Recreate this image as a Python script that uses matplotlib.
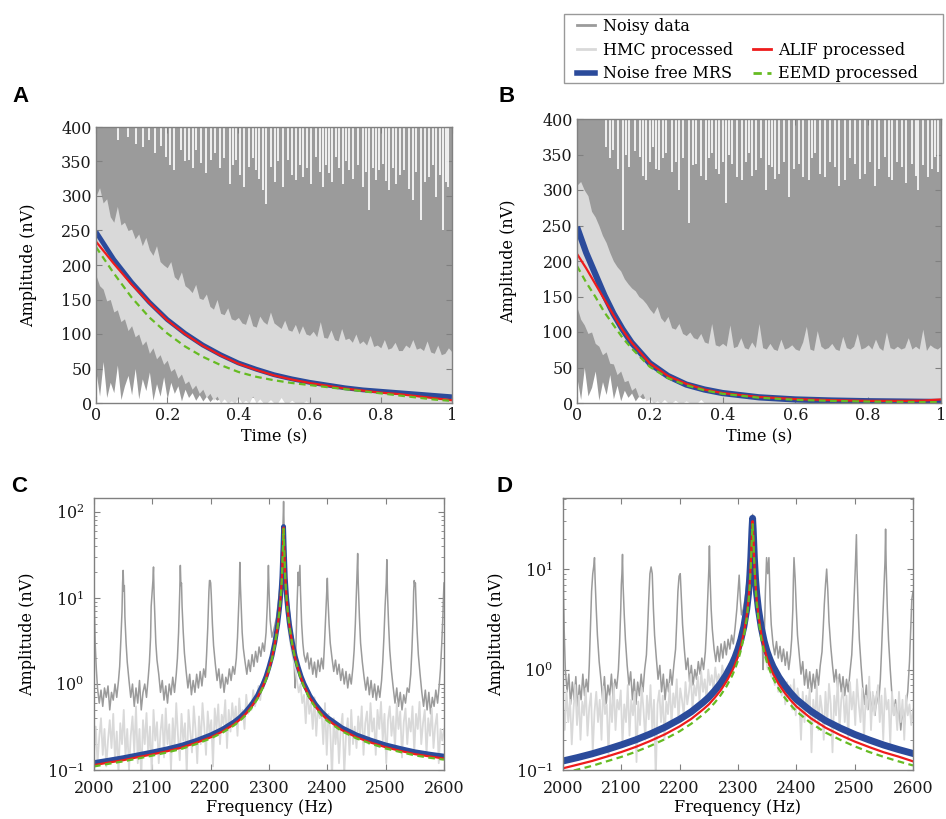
import numpy as np
import matplotlib
matplotlib.use('Agg')
import matplotlib.pyplot as plt
from matplotlib.lines import Line2D
from matplotlib.patches import Rectangle
from matplotlib.ticker import NullFormatter

plt.rcParams['font.family'] = 'DejaVu Serif'
plt.rcParams['mathtext.fontset'] = 'dejavuserif'
plt.rcParams['font.size'] = 11.5

c_noisy = '#9b9b9b'
c_hmc = '#d9d9d9'
c_true = '#2b4b9b'
c_alif = '#ee1c1c'
c_eemd = '#66bb22'

# ---- time domain, panel A ----
a_t = [0, .05, .1, .15, .2, .25, .3, .35, .4, .45, .5, .55, .6, .65, .7, .75, .8, .85, .9, .95, 1.0]
a_true = [248, 208, 175, 146, 121, 101, 84, 70, 58, 49, 41, 35, 30, 26, 22, 19, 17, 15, 13, 11, 9]
a_alif = [234, 202, 172, 145, 120, 100, 83, 69, 57, 48, 40, 34, 29, 25, 21, 18, 15, 13, 10, 7, 4]
a_eemd = [226, 188, 153, 124, 101, 82, 67, 55, 45, 38, 33, 29, 26, 23, 20, 17, 14, 11, 8, 5, 3]

# edges of the HMC band and lower edge of the noisy trace, one value every 0.01 s
a_hmc_hi = [300, 312, 290, 296, 270, 262, 285, 258, 262, 250,
            252, 238, 245, 228, 240, 222, 214, 228, 205, 200,
            196, 205, 183, 178, 190, 170, 166, 160, 172, 152,
            150, 158, 140, 136, 150, 130, 128, 138, 122, 120,
            124, 116, 114, 130, 112, 110, 126, 118, 114, 132,
            116, 112, 108, 120, 106, 104, 114, 100, 112, 100,
            98, 104, 96, 118, 95, 94, 106, 92, 90, 108,
            92, 94, 88, 100, 86, 90, 84, 98, 82, 84,
            80, 92, 78, 80, 88, 76, 76, 84, 80, 92,
            78, 80, 76, 90, 74, 72, 84, 70, 72, 80, 74]
a_hmc_lo = [185, 170, 165, 148, 150, 132, 135, 118, 122, 105,
            112, 96, 100, 84, 90, 72, 80, 64, 70, 56,
            62, 46, 50, 36, 42, 28, 32, 20, 26, 14,
            20, 8, 14, 4, 10, 0, 6, 0, 3, 0,
            8, 0, 4, 0, 10, 0, 6, 0, 0, 5,
            0, 0, 8, 0, 0, 4, 0, 0, 0, 3] + [0] * 41
a_noisy_lo = [45, 10, 60, 8, 30, 15, 55, 5, 25, 40,
              12, 50, 6, 35, 18, 45, 4, 28, 10, 38,
              6, 30, 14, 25, 3, 20, 8, 15, 4, 12,
              3, 10, 2, 8, 4, 8, 8, 8, 8, 8] + [8] * 61
# white gaps at the top of the noisy trace: (time, lowest value of the gap)
a_spikes = [(.061, 381), (.09, 385), (.112, 375), (.131, 371), (.15, 381), (.165, 362), (.182, 372),
            (.197, 357), (.208, 345), (.22, 337), (.239, 366), (.25, 350), (.262, 352), (.272, 340),
            (.281, 366), (.295, 348), (.309, 333), (.323, 352), (.335, 362), (.348, 340), (.36, 355),
            (.375, 318), (.385, 345), (.393, 352), (.405, 330), (.417, 313), (.431, 342), (.44, 355),
            (.449, 337), (.458, 325), (.468, 308), (.478, 289), (.492, 342), (.503, 320), (.512, 350),
            (.524, 313), (.538, 352), (.55, 330), (.562, 323), (.572, 345), (.581, 328), (.592, 340),
            (.605, 318), (.618, 357), (.628, 335), (.637, 313), (.646, 345), (.655, 333), (.664, 320),
            (.674, 357), (.683, 340), (.693, 318), (.702, 350), (.712, 337), (.722, 325), (.735, 345),
            (.749, 313), (.758, 335), (.768, 280), (.778, 340), (.787, 323), (.796, 338), (.805, 347),
            (.815, 322), (.824, 308), (.834, 340), (.843, 318), (.855, 330), (.866, 337), (.878, 310),
            (.89, 294), (.9, 335), (.913, 265), (.925, 320), (.936, 328), (.946, 345), (.955, 299),
            (.965, 330), (.974, 251), (.982, 320), (.988, 313)]

# ---- time domain, panel B ----
b_t = [0, .025, .05, .075, .1, .125, .15, .2, .25, .3, .35, .4, .5, .6, .7, .8, .9, .95, 1.0]
b_true = [248, 212, 182, 152, 126, 104, 85, 56, 38, 26, 19, 14, 8, 5, 3.5, 2.5, 2, 1.7, 1.5]
b_alif = [210, 190, 168, 146, 124, 103, 85, 56, 38, 27, 19, 14, 8.5, 5.5, 4, 3, 3, 3.3, 5]
b_eemd = [193, 170, 150, 128, 110, 92, 77, 51, 35, 25, 18, 13, 7.5, 4.5, 3, 2, 1.5, 1.3, 1.2]

b_hmc_hi = [307, 312, 300, 292, 270, 262, 250, 236, 226, 212,
            200, 192, 186, 175, 168, 162, 158, 150, 146, 140,
            132, 126, 136, 120, 114, 122, 106, 104, 112, 98,
            95, 100, 92, 90, 98, 86, 84, 112, 82, 80,
            84, 80, 110, 78, 80, 92, 78, 76, 86, 78,
            112, 78, 76, 84, 76, 74, 90, 76, 78, 82,
            76, 74, 86, 108, 76, 74, 102, 80, 76, 78,
            84, 76, 74, 94, 78, 76, 80, 98, 76, 78,
            82, 76, 90, 78, 74, 100, 78, 76, 80, 76,
            78, 92, 76, 80, 76, 104, 74, 82, 78, 76, 80]
b_hmc_lo = [135, 118, 110, 98, 100, 84, 80, 68, 72, 56,
            55, 40, 45, 30, 32, 18, 22, 8, 14, 3,
            6, 0, 3, 0, 5, 0, 0, 4, 0, 0,
            3, 0, 0, 0, 5, 0, 0, 0, 0, 0] + [0] * 61
b_noisy_lo = [35, 5, 50, 10, 22, 45, 4, 30, 12, 40,
              6, 25, 3, 18, 8, 14, 3, 10, 6, 8] + [6] * 81
b_spikes = [(.08, 361), (.09, 345), (.099, 356), (.112, 330), (.126, 243), (.135, 350), (.144, 333),
            (.158, 355), (.172, 347), (.18, 320), (.19, 314), (.2, 340), (.208, 361), (.217, 330),
            (.226, 328), (.236, 345), (.245, 352), (.262, 325), (.272, 340), (.281, 300), (.29, 345),
            (.308, 253), (.318, 335), (.327, 337), (.34, 320), (.354, 314), (.363, 345), (.372, 352),
            (.381, 330), (.39, 323), (.4, 340), (.409, 281), (.418, 350), (.427, 337), (.44, 318),
            (.454, 314), (.463, 340), (.473, 352), (.482, 320), (.491, 328), (.505, 345), (.518, 300),
            (.527, 335), (.536, 333), (.545, 315), (.555, 323), (.568, 340), (.582, 290), (.595, 330),
            (.609, 337), (.62, 318), (.637, 314), (.646, 345), (.655, 352), (.668, 322), (.682, 319),
            (.695, 340), (.71, 333), (.72, 305), (.737, 314), (.75, 345), (.765, 337), (.778, 315),
            (.792, 323), (.805, 340), (.819, 305), (.83, 330), (.847, 347), (.856, 318), (.865, 314),
            (.878, 340), (.892, 333), (.905, 310), (.92, 337), (.93, 320), (.938, 300), (.95, 335),
            (.965, 319), (.975, 330), (.984, 347), (.993, 325)]

# ---- spectra: noisy data (Hz, nV) ----
c_noisy_pts = [
    (2000, 15), (2001, 6), (2002, 3), (2004, 1.5), (2006, .9), (2009, .6), (2012, .85), (2015, .55),
    (2018, .9), (2021, .7), (2024, .95), (2027, .5), (2030, .8), (2033, .65), (2036, 1.0), (2039, .7),
    (2042, 1.1), (2044, 1.6), (2046, 3.2), (2048, 7), (2049, 15), (2050, 21), (2051, 12), (2052, 14),
    (2053, 6), (2055, 3), (2057, 1.8), (2060, 1.1), (2063, .7), (2066, 1.0), (2069, .55), (2072, .9),
    (2075, .6), (2078, 1.1), (2081, .5), (2084, .8), (2087, 1.0), (2090, .7), (2093, 1.2), (2095, 1.8),
    (2097, 3.5), (2098, 8), (2099, 10), (2100, 12), (2101, 16), (2102, 23), (2103, 11), (2104, 7),
    (2106, 3), (2108, 1.9), (2111, 1.3), (2114, .8), (2117, 1.1), (2120, .65), (2123, .95), (2126, .6),
    (2129, 1.0), (2132, .75), (2135, 1.2), (2138, .8), (2141, 1.3), (2143, 2.0), (2145, 4), (2147, 12),
    (2148, 24), (2149, 14), (2150, 15), (2151, 8), (2153, 4), (2155, 2.3), (2158, 1.4), (2161, .9),
    (2164, 1.3), (2167, .75), (2170, 1.1), (2173, .8), (2176, 1.3), (2179, .9), (2182, 1.4), (2185, .95),
    (2188, 1.5), (2191, 1.2), (2193, 2.2), (2195, 4.5), (2197, 12), (2198, 16), (2199, 16), (2200, 15),
    (2201, 11), (2203, 5), (2205, 2.8), (2208, 1.7), (2211, 1.1), (2214, 1.5), (2217, .9), (2220, 1.3),
    (2223, .8), (2226, 1.2), (2229, 1.0), (2232, 1.5), (2235, 1.1), (2238, 1.6), (2241, 1.3), (2244, 2.0),
    (2246, 3.5), (2248, 8), (2249, 12), (2250, 26), (2251, 14), (2252, 9), (2254, 4), (2256, 2.6),
    (2259, 1.8), (2262, 1.3), (2265, 1.9), (2268, 1.4), (2271, 2.2), (2274, 1.6), (2277, 2.4), (2280, 1.8),
    (2283, 2.7), (2286, 2.1), (2289, 3.0), (2292, 2.4), (2295, 4), (2297, 8), (2298, 14), (2299, 24),
    (2300, 13), (2301, 8), (2302, 5.5), (2305, 3.5), (2309, 4.5), (2313, 6), (2316, 9), (2319, 14),
    (2321, 22), (2323, 40), (2324, 70), (2325, 133), (2326, 60), (2327, 35), (2329, 20), (2331, 12),
    (2333, 9), (2336, 6), (2339, 4), (2342, 3.3), (2344, 1.2), (2345, .9), (2346, 2.5), (2348, 8),
    (2350, 20), (2351, 14), (2353, 24), (2354, 12), (2356, 5), (2358, 3), (2360, 2.2), (2363, 1.8),
    (2366, 2.3), (2369, 1.5), (2372, 2.0), (2375, 1.3), (2378, 1.8), (2381, 1.2), (2384, 1.9), (2387, 1.4),
    (2390, 2.0), (2393, 1.5), (2395, 2.8), (2397, 6), (2399, 12), (2400, 17), (2401, 10), (2403, 5),
    (2405, 3), (2408, 2.0), (2411, 1.4), (2414, 1.9), (2417, 1.3), (2420, 1.7), (2423, 1.1), (2426, 1.5),
    (2429, 1.0), (2432, 1.4), (2435, .9), (2438, 1.3), (2441, 1.0), (2444, 1.6), (2446, 2.5), (2448, 5),
    (2450, 12), (2451, 20), (2452, 33), (2453, 15), (2455, 6), (2457, 3), (2460, 1.8), (2463, 1.2),
    (2466, .85), (2469, 1.2), (2472, .75), (2475, 1.1), (2478, .7), (2481, 1.0), (2484, .65), (2487, .95),
    (2490, .7), (2493, 1.1), (2495, 1.8), (2497, 3.5), (2499, 8), (2501, 15), (2502, 28), (2503, 12),
    (2505, 5), (2507, 2.5), (2510, 1.4), (2513, .9), (2516, .6), (2519, .9), (2522, .55), (2525, .8),
    (2528, .5), (2531, .75), (2534, .6), (2537, .9), (2540, .8), (2543, 1.3), (2545, 2.5), (2547, 6),
    (2548, 12), (2549, 16), (2550, 14), (2551, 15), (2552, 9), (2554, 4), (2556, 2.2), (2559, 1.3),
    (2562, .8), (2565, .55), (2568, .85), (2571, .5), (2574, .8), (2577, .45), (2580, .7), (2583, .55),
    (2586, .85), (2589, .6), (2592, 1.0), (2594, 1.5), (2596, 2.8), (2598, 6), (2599, 10), (2600, 15)]

d_noisy_pts = [
    (2000, 12), (2001, 5), (2002, 2.5), (2004, 1.0), (2007, .6), (2010, .9), (2013, .45), (2016, .75),
    (2019, .5), (2022, .85), (2025, .4), (2028, .7), (2031, .5), (2034, .9), (2037, .55), (2040, .8),
    (2043, .6), (2045, 1.1), (2047, 2.5), (2049, 6), (2051, 9), (2053, 11), (2054, 13), (2055, 8),
    (2057, 4), (2059, 2.2), (2062, 1.2), (2065, .8), (2068, .5), (2071, .85), (2074, .45), (2077, .7),
    (2080, .55), (2083, .9), (2086, .5), (2089, .8), (2092, .65), (2095, 1.0), (2097, 1.8), (2099, 4),
    (2100, 7), (2101, 9), (2102, 14), (2103, 7), (2105, 3.5), (2107, 2), (2110, 1.1), (2113, .7),
    (2116, .95), (2119, .5), (2122, .8), (2125, .45), (2128, .75), (2131, .55), (2134, .9), (2137, .6),
    (2140, 1.0), (2143, 1.4), (2145, 2.5), (2147, 5), (2149, 9), (2151, 10.5), (2153, 9), (2155, 4),
    (2157, 2.2), (2160, 1.3), (2163, .8), (2166, 1.1), (2169, .6), (2172, .9), (2175, .5), (2178, .8),
    (2181, .6), (2184, 1.0), (2187, .7), (2190, 1.1), (2193, 1.6), (2195, 3), (2197, 6), (2199, 8.5),
    (2201, 9), (2203, 5), (2205, 2.8), (2208, 1.6), (2211, 1.0), (2214, 1.3), (2217, .75), (2220, 1.1),
    (2223, .7), (2226, 1.0), (2229, .8), (2232, 1.2), (2235, .9), (2238, 1.3), (2241, 1.0), (2244, 1.5),
    (2246, 2.5), (2248, 5), (2250, 10), (2251, 17), (2252, 9), (2254, 4), (2256, 2.5), (2259, 1.6),
    (2262, 1.2), (2265, 1.7), (2268, 1.2), (2271, 1.8), (2274, 1.3), (2277, 1.9), (2280, 1.4), (2283, 2.0),
    (2286, 1.6), (2289, 2.2), (2292, 1.8), (2295, 2.6), (2298, 4), (2300, 6), (2302, 8.7), (2304, 5),
    (2306, 3.5), (2309, 4), (2312, 5), (2315, 7), (2318, 10), (2321, 16), (2323, 25), (2325, 35),
    (2327, 22), (2329, 14), (2331, 9), (2334, 6), (2337, 4), (2340, 2.8), (2342, 1.6), (2343, 1.0),
    (2345, 2), (2347, 6), (2349, 13), (2351, 9), (2353, 13), (2355, 5), (2357, 2.8), (2360, 1.8),
    (2363, 1.4), (2366, 1.9), (2369, 1.3), (2372, 1.7), (2375, 1.2), (2378, 1.6), (2381, 1.1), (2384, 1.5),
    (2387, 1.0), (2390, 1.4), (2392, 2), (2394, 4), (2395, 8), (2396, 13), (2398, 8), (2400, 4),
    (2402, 2.2), (2405, 1.4), (2408, .9), (2411, 1.2), (2414, .7), (2417, 1.0), (2420, .65), (2423, .95),
    (2426, .6), (2429, .9), (2432, .65), (2435, 1.0), (2438, .7), (2441, 1.1), (2444, 1.5), (2446, 2.5),
    (2448, 4.5), (2450, 7), (2452, 10), (2454, 6), (2456, 3), (2459, 1.7), (2462, 1.1), (2465, .75),
    (2468, 1.0), (2471, .65), (2474, .9), (2477, .6), (2480, .85), (2483, .55), (2486, .8), (2489, .6),
    (2492, .95), (2495, 1.4), (2497, 2.5), (2499, 5), (2501, 10), (2503, 22), (2504, 10), (2506, 4),
    (2508, 2), (2511, 1.1), (2514, .65), (2517, .45), (2520, .7), (2523, .4), (2526, .6), (2529, .38),
    (2532, .55), (2535, .35), (2538, .6), (2541, .45), (2544, .8), (2546, 1.5), (2548, 3), (2550, 6),
    (2552, 12), (2553, 25), (2554, 11), (2556, 4), (2558, 2), (2561, 1.0), (2564, .55), (2567, .35),
    (2570, .5), (2573, .3), (2576, .45), (2579, .25), (2582, .4), (2585, .28), (2588, .45), (2591, .6),
    (2594, 1.2), (2596, 2.5), (2598, 5), (2600, 6)]

# HMC processed spectra, one value every 3 Hz from 2000 to 2600
hmc_freq = np.arange(2000, 2601, 3)
c_hmc_v = [.16, .32, .12, .24, .4, .15, .3, .11, .22, .38,
           .18, .45, .13, .28, .09, .35, .2, .5, .14, .3,
           .1, .25, .42, .16, .55, .12, .3, .08, .38, .2,
           .46, .15, .32, .09, .5, .22, .36, .12, .28, .44,
           .14, .52, .2, .34, .1, .4, .18, .6, .25, .13,
           .45, .22, .35, .09, .5, .28, .16, .55, .3, .12,
           .42, .2, .6, .32, .15, .48, .26, .38, .11, .52,
           .3, .58, .2, .44, .34, .65, .18, .5, .28, .6,
           .36, .55, .25, .68, .4, .5, .3, .75, .45, .6,
           .5, .85, .55, .7, .95, .65, 1.05, .9, 1.2, 1.4,
           1.5, 1.8, 2.2, 2.7, 3.4, 4.5, 7, 10, 25, 12,
           7, 4.5, 3.2, 2.4, 1.9, 1.5, 1.1, .8, 1.0, .6,
           .75, .35, .9, .45, .6, .3, .7, .25, .55, .4,
           .5, .2, .6, .15, .45, .3, .08, .4, .2, .35,
           .12, .3, .45, .09, .25, .4, .15, .5, .2, .32,
           .18, .42, .25, .55, .15, .35, .48, .2, .6, .28,
           .4, .15, .5, .3, .62, .22, .45, .12, .38, .55,
           .25, .42, .18, .6, .3, .48, .14, .36, .52, .2,
           .4, .28, .55, .16, .45, .3, .62, .2, .35, .5,
           .15, .4, .25, .52, .18, .33, .45, .12, .3, .22, .3]
d_hmc_v = [.45, .25, .62, .3, .5, .18, .4, .7, .28, .55,
           .2, .48, .35, .65, .22, .42, .58, .15, .38, .6,
           .3, .5, .2, .68, .36, .45, .14, .55, .3, .72,
           .25, .5, .4, .62, .18, .45, .3, .7, .22, .5,
           .35, .6, .12, .48, .28, .66, .4, .2, .55, .32,
           .7, .25, .5, .08, .45, .62, .3, .55, .2, .48,
           .36, .72, .28, .58, .42, .8, .3, .65, .5, .35,
           .75, .45, .6, .9, .4, .7, .55, .85, .48, .95,
           .6, .8, .5, 1.0, .7, .88, .62, 1.05, .75, .9,
           .7, 1.1, .85, 1.0, .8, 1.15, .95, 1.2, 1.05, 1.35,
           1.4, 1.6, 1.9, 2.3, 2.8, 3.6, 5.5, 8, 17, 14,
           8, 5, 3.5, 2.6, 2.0, 1.6, 1.3, 1.0, 1.15, .85,
           .95, .7, 1.0, .6, .85, .55, .8, .45, .75, .6,
           .7, .4, .8, .35, .65, .5, .2, .6, .3, .55,
           .4, .65, .15, .5, .3, .7, .25, .55, .4, .2,
           .6, .3, .72, .45, .15, .55, .35, .8, .25, .5,
           .65, .3, .55, .2, .75, .4, .6, .28, .8, .45,
           .3, .65, .2, .55, .4, .85, .25, .6, .35, .5,
           .7, .3, .55, .2, .65, .4, .5, .18, .6, .35,
           .45, .25, .6, .3, .5, .2, .55, .35, .45, .28, .4]

# fitted spectra (noise free, ALIF, EEMD)
fit_freq = [2000, 2025, 2050, 2075, 2100, 2125, 2150, 2175,
            2200, 2220, 2240, 2250, 2260, 2270, 2280, 2290,
            2295, 2300, 2305, 2310, 2315, 2318, 2320, 2322,
            2324, 2325,
            2326, 2328, 2330, 2332, 2335, 2340,
            2345, 2350, 2355, 2360, 2370, 2380, 2390, 2400,
            2425, 2450, 2475, 2500, 2525, 2550, 2575, 2600]
c_true_v = [.122, .13, .139, .15, .162, .176, .194, .22,
            .256, .298, .362, .409, .477, .578, .733, 1.01,
            1.23, 1.58, 2.1, 3.07, 5.0, 7.5, 10.5, 17,
            40, 68,
            40, 17, 10.5, 7.5, 5.0, 3.07,
            2.1, 1.58, 1.23, 1.01, .733, .578, .477, .409,
            .31, .256, .222, .196, .178, .163, .153, .145]
c_alif_v = [.114, .122, .13, .141, .152, .165, .182, .207,
            .24, .28, .34, .385, .449, .545, .69, .955,
            1.17, 1.5, 2.0, 2.93, 4.8, 7.25, 10.2, 16.5,
            39, 66,
            39, 16.5, 10.2, 7.25, 4.8, 2.93,
            2.0, 1.5, 1.17, .955, .69, .545, .449, .385,
            .291, .24, .208, .184, .167, .153, .144, .136]
c_eemd_v = [.11, .118, .126, .136, .147, .16, .176, .2,
            .233, .271, .33, .372, .434, .527, .667, .925,
            1.13, 1.45, 1.94, 2.85, 4.7, 7.1, 10, 16.2,
            38, 64,
            38, 16.2, 10, 7.1, 4.7, 2.85,
            1.94, 1.45, 1.13, .925, .667, .527, .434, .372,
            .282, .233, .202, .178, .162, .148, .139, .132]
d_true_v = [.123, .133, .145, .16, .178, .2, .229, .267,
            .32, .38, .47, .53, .615, .727, .89, 1.14,
            1.33, 1.6, 2.0, 2.67, 4.0, 5.7, 8.0, 13,
            25, 32,
            25, 13, 8, 5.7, 4.0, 2.6,
            1.9, 1.5, 1.25, 1.07, .84, .69, .585, .505,
            .385, .31, .262, .226, .199, .177, .16, .146]
d_alif_v = [.104, .113, .123, .136, .151, .17, .195, .227,
            .272, .323, .4, .45, .523, .618, .757, .97,
            1.13, 1.36, 1.72, 2.3, 3.5, 5.0, 7.1, 11.8,
            23, 30,
            23, 11.8, 7.1, 5.0, 3.5, 2.23,
            1.63, 1.28, 1.07, .91, .714, .587, .497, .43,
            .327, .264, .223, .192, .169, .15, .136, .122]
d_eemd_v = [.093, .101, .11, .122, .135, .152, .174, .203,
            .243, .289, .357, .403, .467, .553, .676, .87,
            1.02, 1.23, 1.56, 2.1, 3.2, 4.6, 6.6, 11,
            21.5, 28,
            21.5, 11, 6.6, 4.6, 3.2, 2.02,
            1.48, 1.16, .965, .82, .64, .525, .445, .384,
            .293, .236, .2, .172, .151, .135, .122, .111]


def style(ax, pad):
    for s in ax.spines.values():
        s.set_color('#808080')
        s.set_linewidth(1)
    ax.tick_params(which='both', direction='in', top=True, right=True,
                   color='#808080', labelcolor='#1a1a1a', pad=pad)
    ax.tick_params(which='major', length=4)
    ax.tick_params(which='minor', length=2.5)


def time_panel(ax, t, true, alif, eemd, hmc_hi, hmc_lo, noisy_lo, spikes, lw_true):
    te = np.linspace(0, 1, len(hmc_hi))
    tn = np.linspace(0, 1, len(noisy_lo))
    sp_t, sp_lo = zip(*spikes)
    ax.fill_between(tn, noisy_lo, 420, color=c_noisy, lw=0)
    ax.vlines(sp_t, sp_lo, 420, color='white', lw=1.2)
    ax.fill_between(te, hmc_lo, hmc_hi, color=c_hmc, lw=0)
    ax.plot(t, true, color=c_true, lw=lw_true, solid_capstyle='butt')
    ax.plot(t, alif, color=c_alif, lw=1.6)
    ax.plot(t, eemd, color=c_eemd, lw=1.6, ls=(0, (3, 2)))
    ax.set_xlim(0, 1)
    ax.set_ylim(0, 400)
    ax.set_xticks([0, 0.2, 0.4, 0.6, 0.8, 1])
    ax.set_xticklabels(['0', '0.2', '0.4', '0.6', '0.8', '1'])
    ax.set_yticks(range(0, 401, 50))
    ax.set_xlabel('Time (s)', labelpad=3)
    ax.set_ylabel('Amplitude (nV)')
    style(ax, 3)


def spec_panel(ax, noisy_pts, hmc_v, true_v, alif_v, eemd_v, lw_true, ytop):
    nf, nv = zip(*noisy_pts)
    ax.plot(nf, nv, color=c_noisy, lw=1.1)
    ax.plot(hmc_freq, hmc_v, color=c_hmc, lw=1.3)
    ax.plot(fit_freq, true_v, color=c_true, lw=lw_true, solid_joinstyle='round')
    ax.plot(fit_freq, alif_v, color=c_alif, lw=1.6)
    ax.plot(fit_freq, eemd_v, color=c_eemd, lw=1.6, ls=(0, (3, 2)))
    ax.set_yscale('log')
    ax.set_xlim(2000, 2600)
    ax.set_ylim(0.1, ytop)
    ax.set_xticks(range(2000, 2601, 100))
    ax.yaxis.set_minor_formatter(NullFormatter())
    ax.set_xlabel('Frequency (Hz)', labelpad=2)
    ax.set_ylabel('Amplitude (nV)')
    style(ax, 7)


fig = plt.figure(figsize=(9.46, 8.19), dpi=100)
W, H = 946.0, 819.0

axA = fig.add_axes([96 / W, 1 - 403 / H, 356 / W, 276 / H])
axB = fig.add_axes([577 / W, 1 - 403 / H, 364 / W, 284 / H])
axC = fig.add_axes([94 / W, 1 - 770 / H, 350 / W, 272 / H])
axD = fig.add_axes([563 / W, 1 - 770 / H, 350 / W, 272 / H])

time_panel(axA, a_t, a_true, a_alif, a_eemd, a_hmc_hi, a_hmc_lo, a_noisy_lo, a_spikes, 3.5)
time_panel(axB, b_t, b_true, b_alif, b_eemd, b_hmc_hi, b_hmc_lo, b_noisy_lo, b_spikes, 4.5)
spec_panel(axC, c_noisy_pts, c_hmc_v, c_true_v, c_alif_v, c_eemd_v, 3.5, 146)
spec_panel(axD, d_noisy_pts, d_hmc_v, d_true_v, d_alif_v, d_eemd_v, 5, 51)

for ax in [axA, axB, axC, axD]:
    ax.yaxis.set_label_coords(-0.165, 0.5)

for lab, x, y in [('A', 12, 86), ('B', 498, 86), ('C', 11, 476), ('D', 497, 476)]:
    fig.text(x / W, 1 - y / H, lab, family='Liberation Sans', weight='bold',
             fontsize=16, va='top', ha='left')

handles = [Line2D([], [], color=c_noisy, lw=2),
           Line2D([], [], color=c_hmc, lw=2),
           Line2D([], [], color=c_true, lw=4),
           Line2D([], [], color='none'),
           Line2D([], [], color=c_alif, lw=2),
           Line2D([], [], color=c_eemd, lw=2, ls=(0, (3, 2)))]
labels = ['Noisy data', 'HMC processed', 'Noise free MRS', '', 'ALIF processed', 'EEMD processed']
fig.legend(handles, labels, ncol=2, loc='upper left', bbox_to_anchor=(577 / W, 1 - 18 / H),
           frameon=False, handlelength=1.15, handletextpad=0.45, columnspacing=1.25,
           labelspacing=0.42, borderpad=0, borderaxespad=0, fontsize=11.5)
fig.add_artist(Rectangle((564 / W, 1 - 83 / H), 379 / W, 69 / H, transform=fig.transFigure,
                         fill=False, edgecolor='#999999', lw=1))

fig.savefig('out.png', dpi=100)
